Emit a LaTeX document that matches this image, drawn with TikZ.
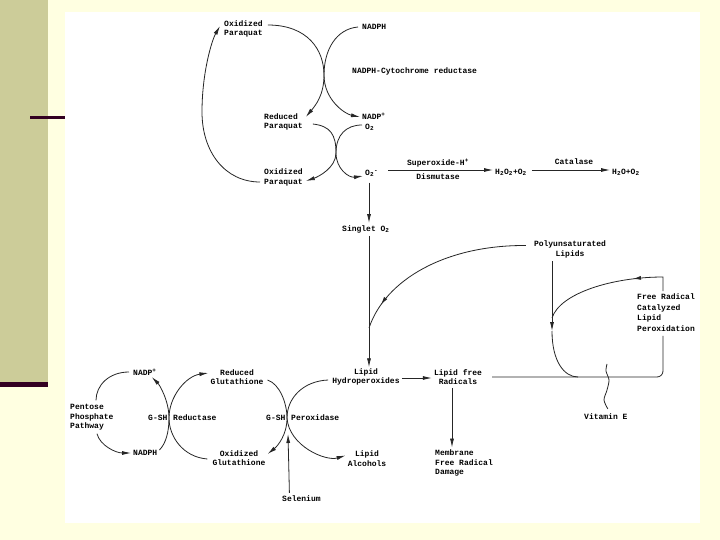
\documentclass[tikz,border=0pt]{standalone}
\usepackage{fontspec}
\newfontfamily\dfont{Liberation Mono}
\usetikzlibrary{arrows.meta,calc,decorations.markings}
\definecolor{bgy}{RGB}{255,255,225}
\definecolor{khaki}{RGB}{204,204,153}
\definecolor{darkbar}{RGB}{51,0,34}
\begin{document}
\begin{tikzpicture}[x=1pt,y=-1pt,
  lbl/.style={font=\dfont\bfseries\fontsize{8}{9.5}\selectfont, inner sep=0pt, align=left},
  ln/.style={line width=0.8pt, draw=black!85},
  arr/.style={ln,-{Latex[length=9pt,width=4pt]}},
  midarr/.style={postaction={decorate},decoration={markings,mark=at position #1 with {\arrow{Latex[length=8pt,width=4pt]}}}},
]
\fill[bgy] (0,0) rectangle (720,540);
\fill[khaki] (0,0) rectangle (48,382);
\fill[darkbar] (0,382) rectangle (48,387);
\fill[darkbar] (30,116) rectangle (65,119);
\fill[white] (65,12) rectangle (700,523);
\useasboundingbox (0,0) rectangle (720,540);

% labels
\node[lbl,anchor=west] (oxp1) at (224,29) {Oxidized\\Paraquat};
\node[lbl,anchor=west] (nadph1) at (362,27) {NADPH};
\node[lbl,anchor=west] (cyto) at (352,71) {NADPH-Cytochrome reductase};
\node[lbl,anchor=west] (redp) at (264,122) {Reduced\\Paraquat};
\node[lbl,anchor=west] (nadp1) at (362,116) {NADP\textsuperscript{+}};
\node[lbl,anchor=west] (o2a) at (365,127) {O\textsubscript{2}};
\node[lbl,anchor=west] (oxp2) at (264,177.5) {Oxidized\\Paraquat};
\node[lbl,anchor=west] (o2m) at (365,173) {O\textsubscript{2}\textsuperscript{-}};
\node[lbl,anchor=west] (h2o2) at (495,172) {H\textsubscript{2}O\textsubscript{2}+O\textsubscript{2}};
\node[lbl,anchor=west] (h2o) at (612,172) {H\textsubscript{2}O+O\textsubscript{2}};
\node[lbl] (sodt) at (438,163) {Superoxide-H\textsuperscript{+}};
\node[lbl] (sodb) at (438,177) {Dismutase};
\node[lbl] (cat) at (574,162) {Catalase};
\node[lbl,anchor=west] (singlet) at (342,229) {Singlet O\textsubscript{2}};
\node[lbl,align=center] (pul) at (570,249.5) {Polyunsaturated\\Lipids};
\node[lbl,anchor=north west,font=\dfont\bfseries\fontsize{8}{10.5}\selectfont] (frc) at (637,294) {Free Radical\\Catalyzed\\Lipid\\Peroxidation};
\node[lbl,align=center] (lhp) at (366,377) {Lipid\\Hydroperoxides};
\node[lbl,align=center] (lfr) at (458,377) {Lipid free\\Radicals};
\node[lbl,anchor=west] (mem) at (435,463) {Membrane\\Free Radical\\Damage};
\node[lbl,anchor=west] (vite) at (584,417) {Vitamin E};
\node[lbl,align=center] (redg) at (237,377) {Reduced\\Glutathione};
\node[lbl,align=center] (oxg) at (239,458) {Oxidized\\Glutathione};
\node[lbl,anchor=west] (nadp2) at (133,372) {NADP\textsuperscript{+}};
\node[lbl,anchor=west] (nadph2) at (133,453) {NADPH};
\node[lbl,anchor=west] (ppp) at (70,417.5) {Pentose\\Phosphate\\Pathway};
\node[lbl,anchor=west] (gshr) at (148,418) {G-SH};
\node[lbl,anchor=west] (redt) at (173,418) {Reductase};
\node[lbl,anchor=west] (gshp) at (266,418) {G-SH};
\node[lbl,anchor=west] (pert) at (291,418) {Peroxidase};
\node[lbl,align=center] (lalc) at (367,458.5) {Lipid\\Alcohols};
\node[lbl,anchor=west] (sel) at (282,499) {Selenium};

% crossing points and junctions
\coordinate (xt) at (324,75);
\coordinate (xm) at (336,153);
\coordinate (xr) at (169,418);
\coordinate (xp) at (287,418);
\coordinate (loopl) at (202,112);
\coordinate (jv) at (369,328);
\coordinate (pd) at (552,331);
\coordinate (pj) at (552,318);
\coordinate (hl) at (578,377);
\coordinate (frx) at (663,0);

% top paraquat cycle
\draw[arr] ($(oxp1.east)+(5,-4)$) .. controls +(40,0) and +(0,-25) .. (xt)
  .. controls +(0,20) and +(10,-12) .. ($(redp.east)+(3,-5)$);
\draw[arr] ($(nadph1.west)+(-4,0)$) .. controls +(-22,2) and +(0,-25) .. (xt)
  .. controls +(0,25) and +(-15,-3) .. ($(nadp1.west)+(-2,1)$);
\draw[arr] ($(redp.east)+(10,2)$) .. controls +(18,2) and +(0,-18) .. (xm)
  .. controls +(0,15) and +(12,-4) .. ($(oxp2.east)+(3,3.5)$);
\draw[arr] ($(o2a.west)+(-3,-2)$) .. controls +(-16,0) and +(0,-18) .. (xm)
  .. controls +(0,16) and +(-14,2) .. ($(o2m.west)+(-2,3)$);
\draw[arr] ($(oxp2.west)+(-4,4.5)$) .. controls +(-35,0) and +(0,40) .. (loopl)
  .. controls +(0,-40) and +(-8,14) .. ($(oxp1.west)+(-4,-3)$);

% superoxide dismutase / catalase
\draw[arr] ($(o2m.east |- h2o2.west)+(10,-2)$) -- ($(h2o2.west)+(-2,-2)$);
\draw[arr] ($(h2o2.east)+(5,-2)$) -- ($(h2o.west)+(-2,-2)$);

% singlet oxygen and lipid hydroperoxides
\draw[arr] ($(o2m.south west)+(4,6)$) -- ($(o2m.south west |- singlet.north)+(4,-2)$);
\draw[arr] ($(o2m.south west |- singlet.south)+(4,3)$) -- ($(o2m.south west |- lhp.north)+(4,-1)$);
\draw[ln,midarr=0.86] ($(pul.west)+(-8,-4)$) .. controls (445,245) and (385,280) .. (jv);

% peroxidation loop
\draw[arr] ($(pul.south)+(-18,3)$) -- (pd);
\draw[ln] (pd) .. controls +(0,30) and +(-14,0) .. (hl);
\draw[ln,rounded corners=6pt] ($(lfr.east)+(10,0)$) -- (frx |- lfr.east) -- ($(frc.south -| frx)+(0,4)$);
\draw[ln,midarr=0.32] ($(frc.north -| frx)+(0,-3)$) -- (663,277) .. controls +(-50,0) and +(8,-25) .. (pj);
\draw[ln] plot[smooth] coordinates {($(vite.north)+(2,-5)$) (604,400) (607,390) (609,380) (606,371) (607,364)};

% lipid free radicals
\draw[arr] ($(lhp.east)+(2,1)$) -- ($(lfr.west)+(-2,1)$);
\draw[arr] ($(lfr.south)+(-6,3)$) -- ($(lfr.south |- mem.north)+(-6,-2)$);

% pentose phosphate cycle
\draw[ln] ($(nadp2.west)+(-4,0)$) .. controls +(-20,0) and +(0,-15) .. ($(ppp.north west)+(26,-4)$);
\draw[arr] ($(ppp.south west)+(27,3)$) .. controls +(3,12) and +(-15,0) .. ($(nadph2.west)+(-2,0)$);

% G-SH reductase
\draw[arr] ($(nadph2.east)+(2,-3)$) .. controls +(6,-6) and +(0,15) .. (xr)
  .. controls +(0,-17) and +(8,8) .. ($(nadp2.east)+(-5,5)$);
\draw[arr] ($(oxg.west)+(-5,1)$) .. controls +(-25,-2) and +(0,18) .. (xr)
  .. controls +(0,-22) and +(-22,3) .. ($(redg.west)+(-2,-4)$);

% G-SH peroxidase
\draw[arr] ($(redg.east)+(4,3)$) .. controls +(12,4) and +(0,-15) .. (xp)
  .. controls +(0,17) and +(10,-8) .. ($(oxg.east)+(2,-4)$);
\draw[arr] ($(lhp.west)+(-4,3)$) .. controls +(-25,1) and +(0,-20) .. (xp)
  .. controls +(2,28) and +(-20,6) .. ($(lalc.west)+(-2,-3)$);
\draw[arr] ($(sel.north)+(-12,-3)$) -- ($(xp)+(1,16)$);
\end{tikzpicture}
\end{document}
